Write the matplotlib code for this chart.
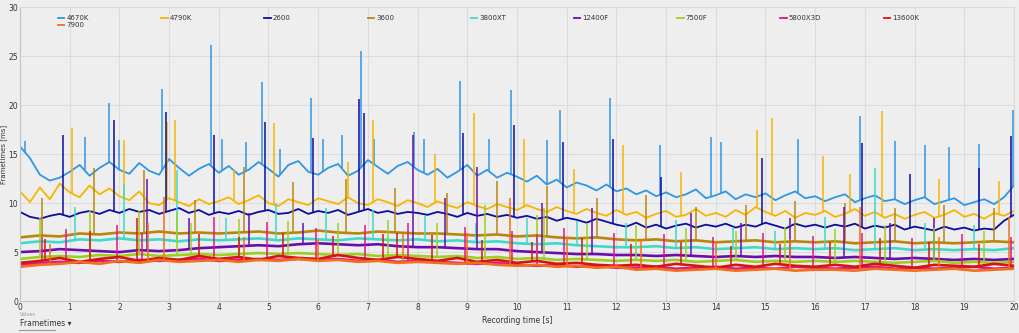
import numpy as np
import matplotlib.pyplot as plt

# series names / colours (legend order)
labels = ["4670K", "4790K", "2600", "3600", "3800XT", "12400F", "7500F", "5800X3D", "13600K", "7900"]
colors = ["#2f96e6", "#f7b500", "#0c0ca0", "#b8860b", "#3fd9c9", "#6a0dad", "#9ccf1e", "#e0168a", "#d61414", "#f0701c"]

# frametimes [ms], 0.2 s steps
ft_4670k = [15.8, 14.6, 12.9, 12.3, 12.6, 13.2, 13.9, 12.8, 13.6, 14.2, 13.4,
            13.0, 14.1, 13.3, 12.9, 14.5, 13.6, 12.8, 13.5, 14.0, 13.1,
            13.8, 12.9, 13.4, 14.2, 13.5, 12.7, 13.9, 14.3, 13.2, 12.9,
            13.6, 14.0, 12.8, 13.3, 14.4, 13.7, 13.0, 13.8, 14.2, 13.4,
            12.9, 13.5, 12.6, 13.2, 13.9, 12.8, 13.4, 12.6, 13.1, 12.7,
            12.2, 12.8, 11.9, 12.4, 11.6, 12.1, 11.8, 11.3, 11.9, 11.2,
            11.5, 10.9, 11.3, 10.7, 11.1, 10.6, 10.9, 11.4, 10.5, 10.8,
            11.2, 10.4, 10.9, 10.6, 11.0, 10.3, 10.8, 11.2, 10.5, 10.7,
            10.2, 10.6, 10.9, 10.1, 10.5, 10.8, 10.2, 10.4, 9.9, 10.3,
            10.6, 9.9, 10.2, 10.5, 9.8, 10.1, 10.4, 9.9, 10.6, 11.8]
ft_4790k = [11.2, 10.1, 11.6, 10.4, 12.0, 11.1, 10.6, 11.8, 10.9, 11.5, 10.7,
            10.3, 11.2, 10.0, 9.8, 10.5, 10.1, 9.7, 10.4, 9.9, 10.2,
            10.6, 9.9, 10.3, 10.8, 10.0, 9.7, 10.4, 10.1, 9.8, 10.5,
            10.2, 9.9, 10.6, 10.0, 9.8, 10.4, 10.1, 9.7, 10.3, 10.0,
            9.6, 10.2, 9.8, 9.5, 10.1, 9.7, 9.4, 9.9, 9.6, 9.3,
            9.8, 9.4, 9.1, 9.6, 9.2, 8.9, 9.4, 9.0, 8.7, 9.3,
            8.8, 9.1, 8.5, 8.9, 9.2, 8.6, 8.8, 9.4, 8.7, 9.0,
            8.6, 9.3, 8.8, 9.6, 9.1, 8.7, 9.2, 8.5, 9.0, 8.8,
            9.2, 8.6, 8.9, 9.4, 8.7, 9.1, 8.5, 8.9, 8.4, 8.8,
            9.1, 8.5, 8.8, 9.3, 8.6, 8.9, 8.4, 9.0, 8.7, 9.2]
ft_2600 = [9.1, 8.6, 8.4, 8.7, 8.9, 8.6, 9.0, 9.2, 8.9, 9.3, 9.0,
           9.4, 9.1, 9.3, 8.9, 9.2, 9.5, 9.0, 9.3, 8.8, 9.1,
           8.9, 9.2, 8.8, 9.1, 9.3, 8.9, 9.0, 9.4, 8.9, 9.2,
           9.0, 9.3, 8.8, 9.1, 9.4, 9.0, 9.2, 8.9, 9.1, 9.0,
           8.8, 9.1, 8.9, 8.6, 9.0, 8.7, 8.9, 8.6, 8.8, 8.5,
           8.7, 8.4, 8.6, 8.2, 8.5, 8.3, 8.0, 8.4, 8.1, 7.8,
           7.6, 8.0, 7.5, 7.8, 7.4, 7.7, 7.9, 7.5, 7.8, 7.6,
           7.9, 7.5, 7.8, 7.6, 8.0, 7.7, 7.4, 7.9, 7.6, 7.8,
           7.5, 7.8, 7.6, 7.9, 7.4, 7.7, 7.5, 7.8, 7.3, 7.6,
           7.4, 7.2, 7.6, 7.3, 7.5, 7.2, 7.4, 7.3, 8.2, 8.8]

# 0.4 s steps
ft_3600 = [6.5, 6.7, 6.6, 6.9, 6.8, 7.0, 6.9, 7.1, 6.9, 7.0, 6.9,
           7.0, 7.1, 6.9, 7.0, 7.2, 7.0, 6.9, 7.1, 7.0, 6.9,
           6.9, 6.8, 6.7, 6.8, 6.6, 6.7, 6.5, 6.4, 6.5, 6.3,
           6.2, 6.3, 6.1, 6.2, 6.0, 6.1, 6.2, 6.0, 6.1, 6.0,
           6.1, 5.9, 6.0, 6.1, 5.9, 6.0, 5.9, 6.0, 6.1, 6.0]
ft_3800xt = [5.9, 6.1, 6.0, 6.3, 6.2, 6.4, 6.2, 6.3, 6.1, 6.3, 6.2,
             6.3, 6.4, 6.2, 6.4, 6.3, 6.2, 6.4, 6.3, 6.2, 6.3,
             6.1, 6.2, 6.0, 6.1, 5.9, 5.8, 5.9, 5.7, 5.6, 5.5,
             5.5, 5.6, 5.4, 5.5, 5.3, 5.4, 5.5, 5.3, 5.4, 5.3,
             5.4, 5.2, 5.3, 5.4, 5.2, 5.3, 5.2, 5.3, 5.2, 5.4]
ft_12400f = [5.0, 5.1, 5.3, 5.2, 5.1, 5.0, 5.2, 5.1, 5.2, 5.4, 5.5,
             5.6, 5.7, 5.6, 5.8, 5.9, 5.8, 5.7, 5.8, 5.6, 5.5,
             5.5, 5.4, 5.3, 5.3, 5.1, 5.0, 4.9, 4.8, 4.8, 4.7,
             4.7, 4.6, 4.7, 4.6, 4.5, 4.6, 4.5, 4.6, 4.5, 4.5,
             4.4, 4.5, 4.4, 4.3, 4.4, 4.3, 4.2, 4.3, 4.2, 4.3]
ft_7500f = [4.3, 4.5, 4.6, 4.5, 4.7, 4.6, 4.8, 4.6, 4.7, 4.8, 4.7,
            4.8, 4.9, 4.8, 4.9, 4.8, 4.7, 4.8, 4.6, 4.7, 4.6,
            4.5, 4.6, 4.4, 4.5, 4.3, 4.4, 4.2, 4.3, 4.2, 4.1,
            4.2, 4.1, 4.2, 4.0, 4.1, 4.2, 4.0, 4.1, 4.0, 4.1,
            4.0, 4.1, 4.0, 3.9, 4.0, 4.1, 3.9, 4.0, 3.9, 4.0]
ft_5800x3d = [3.7, 3.9, 4.0, 3.9, 4.1, 4.0, 4.2, 4.1, 4.2, 4.3, 4.1,
              4.2, 4.3, 4.2, 4.3, 4.2, 4.3, 4.1, 4.2, 4.0, 4.1,
              4.0, 3.9, 3.8, 3.9, 3.7, 3.6, 3.7, 3.5, 3.6, 3.4,
              3.4, 3.5, 3.3, 3.4, 3.5, 3.3, 3.4, 3.3, 3.5, 3.4,
              3.3, 3.4, 3.5, 3.3, 3.4, 3.3, 3.4, 3.5, 3.3, 3.4]
ft_13600k = [3.9, 4.1, 4.4, 4.0, 4.3, 4.5, 4.1, 4.4, 4.2, 4.6, 4.3,
             4.5, 4.2, 4.6, 4.4, 4.3, 4.7, 4.4, 4.2, 4.5, 4.3,
             4.1, 4.4, 4.0, 4.2, 3.9, 4.1, 3.8, 3.9, 3.7, 3.6,
             3.7, 3.5, 3.8, 3.6, 3.4, 3.7, 3.5, 3.8, 3.6, 3.5,
             3.7, 3.5, 3.8, 3.6, 3.4, 3.7, 3.6, 3.5, 3.8, 3.6]
ft_7900 = [3.5, 3.7, 3.8, 4.0, 3.8, 4.1, 3.9, 4.2, 4.0, 4.1, 4.2,
           4.0, 4.2, 4.1, 4.3, 4.1, 4.2, 4.0, 4.1, 3.9, 4.0,
           3.9, 3.8, 3.9, 3.7, 3.6, 3.7, 3.5, 3.6, 3.4, 3.5,
           3.2, 3.3, 3.1, 3.2, 3.3, 3.1, 3.2, 3.3, 3.1, 3.2,
           3.2, 3.1, 3.3, 3.2, 3.1, 3.2, 3.3, 3.1, 3.2, 3.3]

# frametime spikes (time [s], peak [ms])
sp_4670k = [(0.1, 16.3), (1.3, 16.8), (1.8, 20.2), (2.0, 16.4), (2.86, 21.7), (3.84, 26.2), (4.06, 16.5),
            (4.55, 16.2), (4.87, 22.4), (5.23, 15.5), (5.85, 20.7), (6.1, 16.6), (6.48, 17.0), (6.86, 25.5),
            (7.12, 16.6), (7.93, 17.3), (8.13, 16.6), (8.85, 22.5), (9.44, 16.6), (9.88, 21.6), (10.6, 16.4),
            (10.87, 19.5), (11.87, 20.7), (12.88, 15.9), (13.9, 16.8), (14.1, 16.2), (15.65, 16.6),
            (16.9, 18.9), (17.6, 16.3), (18.2, 15.9), (18.7, 15.7), (19.3, 16.0), (19.98, 19.5)]
sp_4790k = [(1.05, 17.7), (2.09, 16.4), (2.96, 18.3), (3.12, 18.5), (4.3, 13.5), (5.11, 18.2), (6.6, 14.2),
            (7.1, 18.5), (8.35, 15.0), (9.13, 19.2), (10.14, 16.6), (11.15, 13.5), (12.14, 15.9),
            (13.3, 13.2), (14.83, 17.5), (15.13, 18.7), (16.15, 14.8), (16.7, 13.0), (17.35, 19.4),
            (18.5, 12.5), (19.7, 12.3)]
sp_2600 = [(0.87, 17.0), (1.9, 18.5), (2.93, 19.3), (3.9, 17.0), (4.93, 18.3), (5.9, 16.7), (6.82, 20.6),
           (6.92, 19.2), (8.92, 17.2), (9.94, 18.0), (10.93, 16.2), (11.93, 16.6), (12.9, 12.7),
           (14.93, 14.6), (16.94, 16.1), (17.9, 13.0), (19.3, 13.6), (19.94, 16.9)]
sp_3600 = [(0.45, 10.5), (1.49, 13.6), (2.5, 13.4), (3.53, 10.3), (4.5, 13.7), (5.5, 12.2), (6.55, 12.5),
           (7.55, 11.5), (8.6, 11.0), (9.6, 12.3), (10.6, 11.8), (11.6, 10.5), (12.6, 10.8), (13.6, 9.6),
           (14.6, 9.8), (15.6, 10.2), (16.6, 10.0), (17.6, 9.5), (18.6, 9.8), (19.6, 9.5)]
sp_3800xt = [(1.1, 9.6), (2.1, 12.0), (3.15, 13.4), (4.15, 8.5), (5.15, 10.0), (6.15, 9.5), (7.1, 9.3),
             (8.15, 8.8), (9.18, 8.0), (10.2, 8.5), (11.2, 8.2), (12.2, 8.0), (13.2, 8.3), (14.35, 7.6),
             (15.2, 7.2), (16.2, 8.6), (17.2, 13.6), (18.2, 8.0), (19.2, 7.8)]
sp_12400f = [(2.55, 12.5), (3.4, 8.5), (4.6, 9.0), (5.7, 8.0), (7.9, 17.0), (8.55, 10.5), (9.2, 13.7),
             (10.5, 10.0), (11.5, 9.5), (13.5, 9.0), (14.5, 8.0), (15.5, 8.5), (16.58, 9.6), (17.5, 8.0),
             (18.4, 8.5)]
sp_7500f = [(0.4, 8.5), (1.4, 9.3), (2.4, 9.3), (3.15, 9.0), (3.45, 8.0), (4.4, 8.4), (5.4, 8.2), (6.4, 8.0),
            (7.4, 8.3), (8.4, 8.0), (9.35, 9.8), (10.4, 8.8), (10.55, 9.5), (11.4, 8.0), (12.4, 7.8),
            (13.4, 7.5), (14.4, 7.2), (15.4, 7.6), (16.4, 7.4), (17.4, 7.8), (18.4, 7.5), (19.4, 7.2)]
sp_5800x3d = [(0.45, 6.5), (0.93, 7.4), (1.95, 7.8), (2.45, 7.0), (3.9, 8.6), (4.97, 8.1), (5.95, 7.5),
              (6.95, 7.8), (7.8, 8.0), (8.95, 7.6), (9.9, 7.2), (10.4, 6.8), (10.95, 7.5), (11.95, 7.0),
              (12.95, 6.8), (13.95, 6.5), (14.95, 6.9), (15.95, 6.6), (16.95, 7.0), (17.95, 6.4),
              (18.95, 6.8), (19.95, 6.5)]
sp_13600k = [(0.5, 6.3), (1.4, 7.2), (2.35, 8.5), (3.6, 6.8), (4.4, 6.5), (5.3, 7.0), (6.3, 6.6), (7.3, 6.8),
             (7.58, 7.0), (8.3, 6.7), (9.3, 6.2), (10.3, 6.0), (11.3, 6.4), (12.3, 5.8), (13.3, 6.0),
             (14.3, 5.6), (15.3, 5.8), (16.3, 6.0), (17.3, 6.4), (18.3, 6.0), (19.3, 5.8)]
sp_7900 = [(0.6, 5.8), (2.58, 8.0), (2.9, 10.6), (4.5, 6.5), (6.0, 6.2), (7.7, 6.8), (9.0, 7.0),
           (9.86, 10.5), (11.0, 6.5), (12.5, 6.2), (14.0, 6.0), (15.5, 6.3), (16.9, 9.6), (18.5, 6.5),
           (19.9, 8.6)]

series = [ft_4670k, ft_4790k, ft_2600, ft_3600, ft_3800xt, ft_12400f, ft_7500f, ft_5800x3d, ft_13600k, ft_7900]
spikes = [sp_4670k, sp_4790k, sp_2600, sp_3600, sp_3800xt, sp_12400f, sp_7500f, sp_5800x3d, sp_13600k, sp_7900]

bg = "#eeeeee"
fig = plt.figure(figsize=(10.2, 3.33), dpi=100, facecolor=bg)
ax = fig.add_axes([0.0196, 0.096, 0.9745, 0.882], facecolor=bg)

for vals, sp, col in zip(series, spikes, colors):
    t = np.linspace(0, 20, len(vals))
    lw = 1.3 if len(vals) > 60 else 1.9
    ax.plot(t, vals, color=col, lw=lw)
    st = [s[0] for s in sp]
    sv = [s[1] for s in sp]
    ax.vlines(st, np.interp(st, t, vals), sv, color=col, lw=1.1)

ax.set_xlim(0, 20)
ax.set_ylim(0, 30)
ax.set_xticks(range(0, 21))
ax.set_yticks(range(0, 31, 5))
ax.tick_params(length=0, labelsize=5.5, colors="#333333")
ax.tick_params(axis="x", pad=1.5)
ax.tick_params(axis="y", pad=1.5)
ax.grid(True, color="#dcdcdc", lw=0.8)
ax.set_axisbelow(True)
for s in ["left", "bottom"]:
    ax.spines[s].set_color("#c4c4c4")
for s in ["top", "right"]:
    ax.spines[s].set_color("#dadada")

ax.set_ylabel("Frametimes [ms]", fontsize=5, color="#333333")
ax.yaxis.set_label_coords(-12.5 / 994, 0.5)
ax.set_xlabel("Recording time [s]", fontsize=5.5, color="#333333", labelpad=3)

# legend: 9 in first row, 7900 below 4670K
for i, (lab, col) in enumerate(zip(labels, colors)):
    px = 58 + (i % 9) * 103.2
    py = 18 if i < 9 else 25
    x0 = (px - 20) / 994.0
    y0 = (301 - py) / 294.0
    ax.plot([x0, x0 + 0.0065], [y0, y0], transform=ax.transAxes, color=col, lw=1.3, clip_on=False)
    ax.text(x0 + 0.0085, y0, lab, transform=ax.transAxes, fontsize=5, color="#333333", va="center")

fig.text(20 / 1020, 1 - 315 / 333, "Values", fontsize=3.5, color="#999999", va="center")
fig.text(20 / 1020, 1 - 324 / 333, "Frametimes \u25be", fontsize=5.5, color="#333333", va="center")
fig.add_artist(plt.Line2D([19 / 1020, 55 / 1020], [1 - 330 / 333, 1 - 330 / 333], color="#999999", lw=0.8))

fig.savefig("out.png", dpi=100, facecolor=bg)
